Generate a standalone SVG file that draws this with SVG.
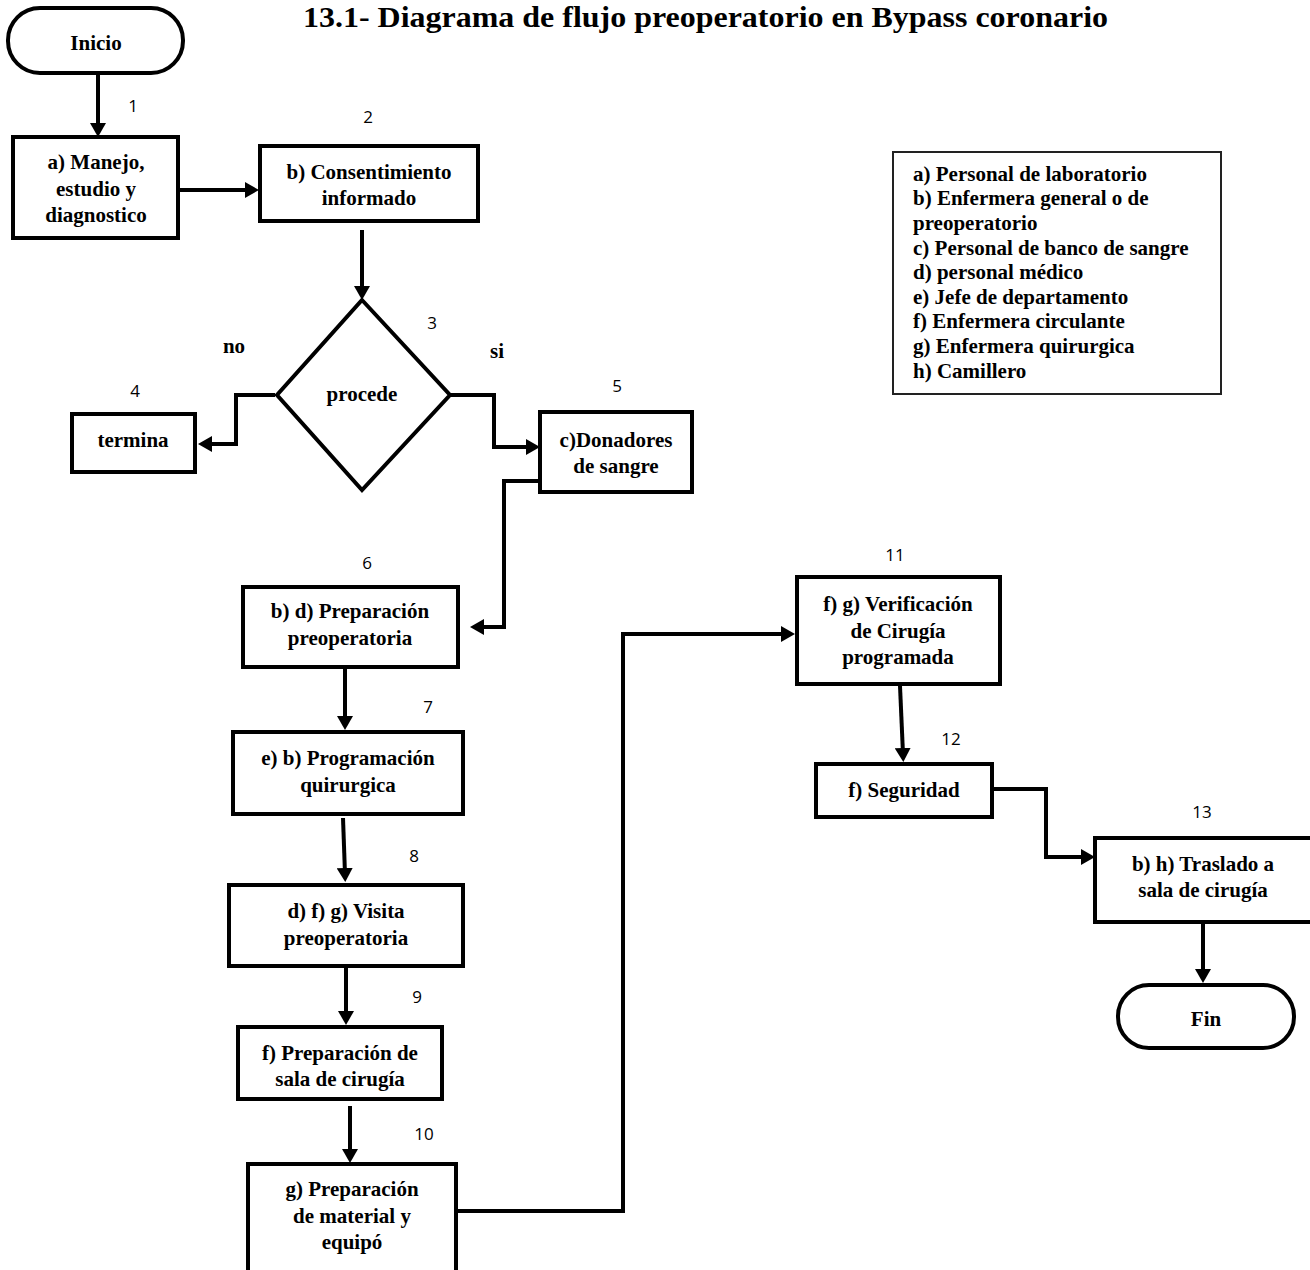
<svg xmlns="http://www.w3.org/2000/svg" width="1310" height="1270" viewBox="0 0 1310 1270">
<defs>
<marker id="ah" markerUnits="userSpaceOnUse" markerWidth="14" markerHeight="16" refX="6" refY="8" orient="auto">
<path d="M0,0 L14,8 L0,16 z" fill="#000"/>
</marker>
<style>
.box{fill:#fff;stroke:#000;stroke-width:4}
.leg{fill:#fff;stroke:#222;stroke-width:2}
.t{font-family:"Liberation Serif","Times New Roman",serif;font-weight:bold;font-size:21px;fill:#000;text-anchor:middle}
.l{font-family:"Liberation Serif","Times New Roman",serif;font-weight:bold;font-size:21px;fill:#000}
.n{font-family:"Open Sans","Liberation Sans",sans-serif;font-size:17px;fill:#000;text-anchor:middle}
.c{fill:none;stroke:#000;stroke-width:4;marker-end:url(#ah)}
</style>
</defs>
<rect width="1310" height="1270" fill="#fff"/>
<text x="303" y="27" font-family="Liberation Serif, Times New Roman, serif" font-weight="bold" font-size="30" textLength="805" lengthAdjust="spacingAndGlyphs">13.1- Diagrama de flujo preoperatorio en Bypass coronario</text>

<g id="connectors">
<path class="c" d="M98,73 V129"/>
<path class="c" d="M178,190 H251"/>
<path class="c" d="M362,230 V292"/>
<path class="c" d="M275,395 H236 V444 H206"/>
<path class="c" d="M450,395 H494 V447 H532"/>
<path class="c" d="M540,481 H504 V627 H478"/>
<path class="c" d="M345,668 V722"/>
<path class="c" d="M343,818 L345,874"/>
<path class="c" d="M346,967 V1017"/>
<path class="c" d="M350,1106 V1155"/>
<path class="c" d="M456,1211 H623 V634 H787"/>
<path class="c" d="M900,686 L903,754"/>
<path class="c" d="M992,789 H1046 V857 H1087"/>
<path class="c" d="M1203,922 V975"/>
</g>

<g id="inicio"><rect class="box" x="8" y="8" width="175" height="65" rx="32"/><text class="t" x="96" y="50">Inicio</text></g>
<g id="lbl1"><text class="n" x="133" y="112">1</text></g>
<g id="nodeA"><rect class="box" x="13" y="137" width="165" height="101"/>
<text class="t" x="96" y="169">a) Manejo,</text><text class="t" x="96" y="196">estudio y</text><text class="t" x="96" y="222">diagnostico</text></g>
<g id="lbl2"><text class="n" x="368" y="123">2</text></g>
<g id="nodeB"><rect class="box" x="260" y="146" width="218" height="75"/>
<text class="t" x="369" y="179">b) Consentimiento</text><text class="t" x="369" y="205">informado</text></g>
<g id="decision"><polygon class="box" points="362,300 450,395 362,490 277,395"/><text class="t" x="362" y="401">procede</text></g>
<g id="lbl3"><text class="n" x="432" y="329">3</text></g>
<g id="lblNo"><text class="t" x="234" y="353">no</text></g>
<g id="lblSi"><text class="t" x="497" y="358">si</text></g>
<g id="lbl4"><text class="n" x="135" y="397">4</text></g>
<g id="termina"><rect class="box" x="72" y="414" width="123" height="58"/><text class="t" x="133" y="447">termina</text></g>
<g id="lbl5"><text class="n" x="617" y="392">5</text></g>
<g id="nodeC"><rect class="box" x="540" y="412" width="152" height="80"/>
<text class="t" x="616" y="447">c)Donadores</text><text class="t" x="616" y="473">de sangre</text></g>
<g id="lbl6"><text class="n" x="367" y="569">6</text></g>
<g id="node6"><rect class="box" x="243" y="587" width="215" height="80"/>
<text class="t" x="350" y="618">b) d) Preparación</text><text class="t" x="350" y="645">preoperatoria</text></g>
<g id="lbl7"><text class="n" x="428" y="713">7</text></g>
<g id="node7"><rect class="box" x="233" y="732" width="230" height="82"/>
<text class="t" x="348" y="765">e) b) Programación</text><text class="t" x="348" y="792">quirurgica</text></g>
<g id="lbl8"><text class="n" x="414" y="862">8</text></g>
<g id="node8"><rect class="box" x="229" y="885" width="234" height="81"/>
<text class="t" x="346" y="918">d) f) g) Visita</text><text class="t" x="346" y="945">preoperatoria</text></g>
<g id="lbl9"><text class="n" x="417" y="1003">9</text></g>
<g id="node9"><rect class="box" x="238" y="1027" width="204" height="72"/>
<text class="t" x="340" y="1060">f) Preparación de</text><text class="t" x="340" y="1086">sala de cirugía</text></g>
<g id="lbl10"><text class="n" x="424" y="1140">10</text></g>
<g id="node10"><rect class="box" x="248" y="1164" width="208" height="120"/>
<text class="t" x="352" y="1196">g) Preparación</text><text class="t" x="352" y="1223">de material y</text><text class="t" x="352" y="1249">equipó</text></g>
<g id="lbl11"><text class="n" x="895" y="561">11</text></g>
<g id="node11"><rect class="box" x="797" y="577" width="203" height="107"/>
<text class="t" x="898" y="611">f) g) Verificación</text><text class="t" x="898" y="638">de Cirugía</text><text class="t" x="898" y="664">programada</text></g>
<g id="lbl12"><text class="n" x="951" y="745">12</text></g>
<g id="node12"><rect class="box" x="816" y="764" width="176" height="53"/><text class="t" x="904" y="797">f) Seguridad</text></g>
<g id="lbl13"><text class="n" x="1202" y="818">13</text></g>
<g id="node13"><rect class="box" x="1095" y="838" width="222" height="84"/>
<text class="t" x="1203" y="871">b) h) Traslado a</text><text class="t" x="1203" y="897">sala de cirugía</text></g>
<g id="fin"><rect class="box" x="1118" y="985" width="176" height="63" rx="31"/><text class="t" x="1206" y="1026">Fin</text></g>

<g id="legend"><rect class="leg" x="893" y="152" width="328" height="242"/>
<text class="l" x="913" y="181">a) Personal de laboratorio</text>
<text class="l" x="913" y="205">b) Enfermera general o de</text>
<text class="l" x="913" y="230">preoperatorio</text>
<text class="l" x="913" y="255">c) Personal de banco de sangre</text>
<text class="l" x="913" y="279">d) personal médico</text>
<text class="l" x="913" y="304">e) Jefe de departamento</text>
<text class="l" x="913" y="328">f) Enfermera circulante</text>
<text class="l" x="913" y="353">g) Enfermera quirurgica</text>
<text class="l" x="913" y="378">h) Camillero</text>
</g>
</svg>
